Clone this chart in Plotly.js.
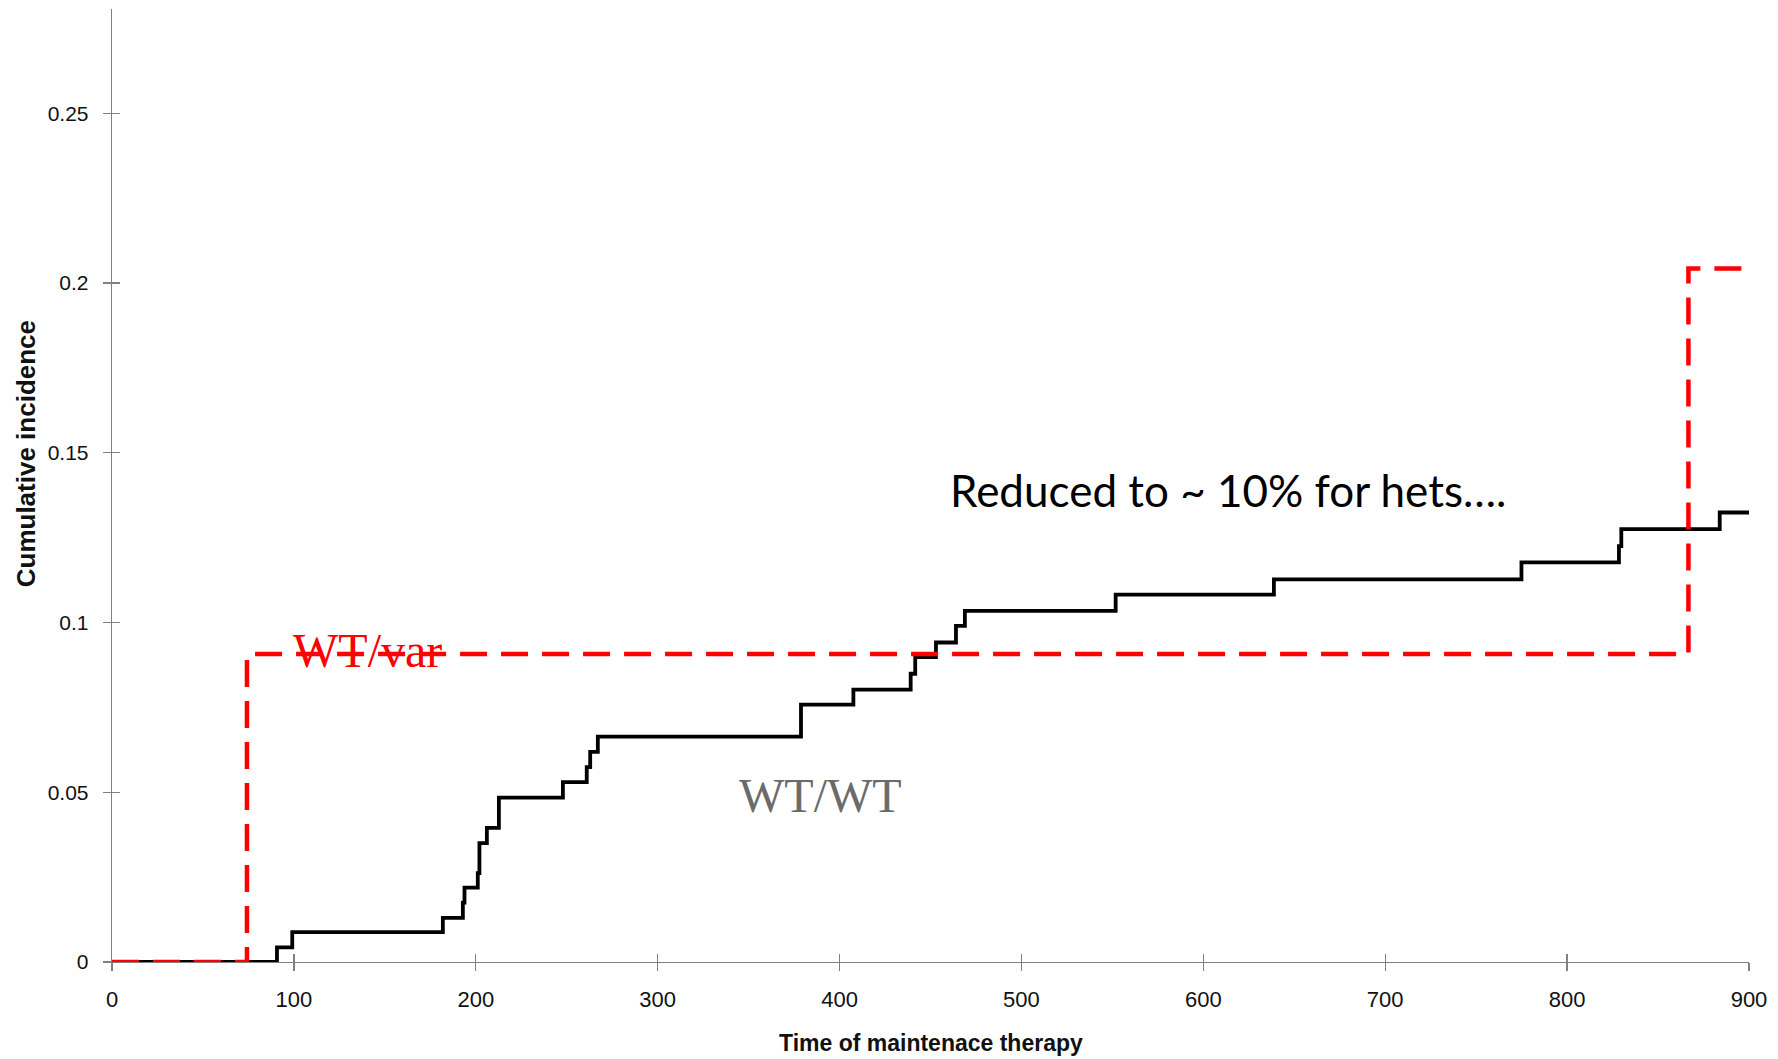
<!DOCTYPE html>
<html>
<head>
<meta charset="utf-8">
<script src="https://cdn.plot.ly/plotly-3.0.1.min.js"></script>
<style>html,body{margin:0;padding:0;background:#fff;} #chart{width:1778px;height:1059px;}</style>
</head>
<body>
<div id="chart"></div>
<script>
// Step times (days of maintenance therapy) and cumulative incidence, WT/WT group
const wtTime = [0, 90.7, 99.1, 181.9, 192.9, 193.8, 201.1, 202.0, 206.1, 212.7, 247.9, 261.0, 262.9, 267.1, 378.8, 407.6, 439.1, 441.6, 453.0, 464.0, 468.9, 551.8, 638.8, 774.9, 828.5, 829.8, 883.9, 900];
const wtInc  = [0, 0.0043, 0.0088, 0.0130, 0.0175, 0.0219, 0.0262, 0.0350, 0.0395, 0.0484, 0.0530, 0.0574, 0.0619, 0.0664, 0.0758, 0.0802, 0.0849, 0.0898, 0.0941, 0.0990, 0.1034, 0.1082, 0.1127, 0.1177, 0.1225, 0.1275, 0.1324, 0.1324];
// WT/var group
const varTime = [0, 74.2, 866.7, 900];
const varInc  = [0, 0.0907, 0.2043, 0.2043];
// Axis ticks
const xTicks = [0, 100, 200, 300, 400, 500, 600, 700, 800, 900];
const yTicks = [0, 0.05, 0.1, 0.15, 0.2, 0.25];
const yTickText = ['0', '0.05', '0.1', '0.15', '0.2', '0.25'];
// Labels
const xTitle = 'Time of maintenace therapy';
const yTitle = 'Cumulative incidence';
const labelVar = 'WT/var';
const labelWT = 'WT/WT';
const noteText = 'Reduced to ~ 10% for hets….';

const axisGray = '#808080';
const xRange = [0, 900];
const yRange = [0, 0.2807];

const traces = [
  {x: wtTime, y: wtInc, mode: 'lines', name: labelWT, cliponaxis: false,
   line: {shape: 'hv', color: '#000000', width: 3.8}, hoverinfo: 'x+y'},
  {x: varTime, y: varInc, mode: 'lines', name: labelVar, cliponaxis: false,
   line: {shape: 'hv', color: '#ff0000', width: 4.5, dash: '27px,14px'}, hoverinfo: 'x+y'},
  {x: [], y: [], xaxis: 'x2', yaxis: 'y2', mode: 'lines', showlegend: false, hoverinfo: 'skip'}
];

const layout = {
  width: 1778, height: 1059,
  margin: {l: 111.7, r: 28.7, t: 9, b: 96.7, autoexpand: false},
  paper_bgcolor: '#ffffff', plot_bgcolor: '#ffffff',
  showlegend: false,
  xaxis: {
    range: xRange, tickvals: xTicks, ticks: 'outside', ticklen: 8, tickwidth: 1.3, tickcolor: axisGray,
    showline: true, linecolor: axisGray, linewidth: 1.3, showgrid: false, zeroline: false,
    ticklabelstandoff: 9,
    tickfont: {family: '"Liberation Sans", Arial, sans-serif', size: 22, color: '#111111'}
  },
  yaxis: {
    range: yRange, tickvals: yTicks, ticktext: yTickText, ticks: 'outside', ticklen: 8, tickwidth: 1.3, tickcolor: axisGray,
    showline: true, linecolor: axisGray, linewidth: 1.3, showgrid: false, zeroline: false,
    ticklabelstandoff: 10,
    tickfont: {family: '"Liberation Sans", Arial, sans-serif', size: 21, color: '#111111'}
  },
  xaxis2: {overlaying: 'x', anchor: 'y2', side: 'bottom', range: xRange, tickvals: xTicks, ticks: 'inside',
    ticklen: 8, tickwidth: 1.3, tickcolor: axisGray, showticklabels: false, showline: false, showgrid: false, zeroline: false},
  yaxis2: {overlaying: 'y', anchor: 'x2', side: 'left', range: yRange, tickvals: yTicks, ticks: 'inside',
    ticklen: 8, tickwidth: 1.3, tickcolor: axisGray, showticklabels: false, showline: false, showgrid: false, zeroline: false},
  annotations: [
    {text: labelVar, x: 140.3, y: 0.0917, xref: 'x', yref: 'y', showarrow: false, xanchor: 'center', yanchor: 'middle',
     font: {family: '"Liberation Serif", "Times New Roman", serif', size: 48, color: '#ff0000'}},
    {text: labelWT, x: 389.3, y: 0.0490, xref: 'x', yref: 'y', showarrow: false, xanchor: 'center', yanchor: 'middle',
     font: {family: '"Liberation Serif", "Times New Roman", serif', size: 48, color: '#6b6b6b'}},
    {text: noteText, x: 613.5, y: 0.139, xref: 'x', yref: 'y', showarrow: false, xanchor: 'center', yanchor: 'middle',
     font: {family: 'Lato, "Open Sans", sans-serif', size: 44, color: '#000000'}},
    {text: yTitle, x: -0.0529, y: 0.5332, xref: 'paper', yref: 'paper', showarrow: false, textangle: -90,
     xanchor: 'center', yanchor: 'middle',
     font: {family: '"Liberation Sans", Arial, sans-serif', size: 26, weight: 'bold', color: '#111111'}},
    {text: xTitle, x: 0.5, y: -0.0847, xref: 'paper', yref: 'paper', showarrow: false,
     xanchor: 'center', yanchor: 'middle',
     font: {family: '"Liberation Sans", Arial, sans-serif', size: 23, weight: 'bold', color: '#111111'}}
  ]
};

Plotly.newPlot('chart', traces, layout, {displayModeBar: false, staticPlot: true});
</script>
</body>
</html>
